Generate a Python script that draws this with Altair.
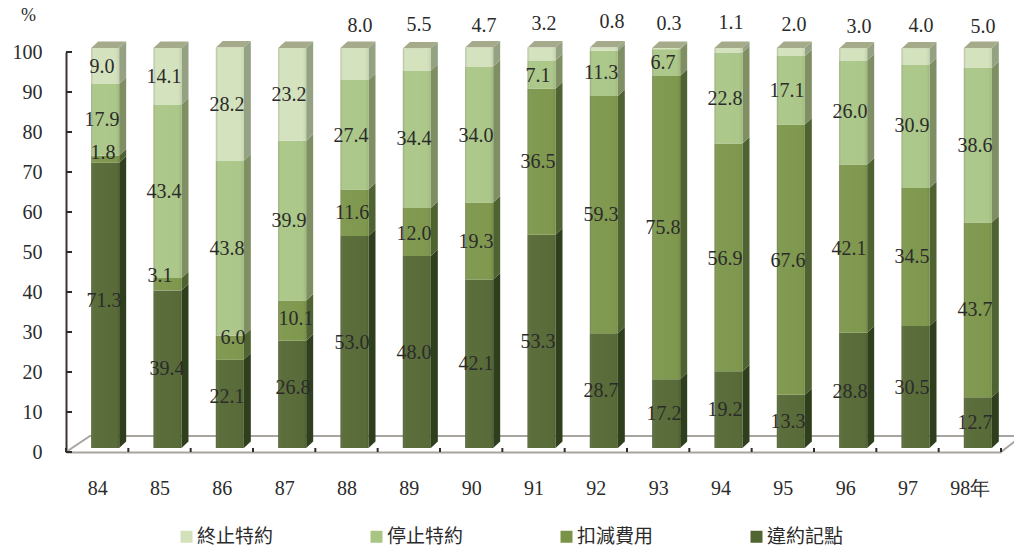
import altair as alt
import pandas as pd

YEARS = list(range(84, 99))
SERIES = ["違約記點", "扣減費用", "停止特約", "終止特約"]
V_BREACH = [71.3, 39.4, 22.1, 26.8, 53.0, 48.0, 42.1, 53.3, 28.7, 17.2, 19.2, 13.3, 28.8, 30.5, 12.7]
V_DEDUCT = [1.8, 3.1, 6.0, 10.1, 11.6, 12.0, 19.3, 36.5, 59.3, 75.8, 56.9, 67.6, 42.1, 34.5, 43.7]
V_STOP = [17.9, 43.4, 43.8, 39.9, 27.4, 34.4, 34.0, 7.1, 11.3, 6.7, 22.8, 17.1, 26.0, 30.9, 38.6]
V_END = [9.0, 14.1, 28.2, 23.2, 8.0, 5.5, 4.7, 3.2, 0.8, 0.3, 1.1, 2.0, 3.0, 4.0, 5.0]
VALUES = [V_BREACH, V_DEDUCT, V_STOP, V_END]

FRONT = ["#516530", "#7a9447", "#a8c584", "#d2e1bb"]
SIDE = ["#2f3f1d", "#4f6231", "#7f8f63", "#95a183"]
TOP_FACE = "#a5aa8a"
INK = "#2b2b2b"
FONT = "Liberation Serif"
CJK = "Noto Sans CJK TC"

# Where the reference places each value label (canvas x, y)
LBL_BREACH = [(105,301),(168,369),(228,397),(294,388),(353,343),(415,353),(477,364),(539,342),(602,391),(665,414),(726,410),(789,422),(851,392),(913,388),(976,423)]
LBL_DEDUCT = [(104,153),(161,276),(234,338),(297,319),(353,213),(415,234),(477,242),(539,162),(602,215),(664,228),(726,259),(789,261),(850,249),(913,257),(976,310)]
LBL_STOP = [(103,120),(165,192),(228,249),(290,221),(352,136),(415,139),(477,136),(539,76),(602,73),(664,63),(726,99),(788,91),(851,112),(913,126),(976,146)]
LBL_END = [(103,67),(165,77),(228,105),(290,95),(361,26),(420,25),(485,26),(545,24),(613,22),(670,24),(732,23),(795,25),(860,27),(922,26),(984,27)]
LABELS = [LBL_BREACH, LBL_DEDUCT, LBL_STOP, LBL_END]

W, H = 935, 400
LEFT, TOP = 66, 52
PX_X = W / 15.0          # pixels per year
PX_Y = H / 100.0         # pixels per percent
lift = 4 / PX_Y          # front face sits above the floor line
half = 14 / PX_X         # half width of a front face
shift = 8 / PX_X         # face centre relative to the band centre
dx3 = 7 / PX_X           # depth of the box, horizontally
dy3 = 6.5 / PX_Y         # depth of the box, vertically

front, side, top, labels, shade = [], [], [], [], []
for i, yr in enumerate(YEARS):
    lo = 0.0
    xl, xr = yr + shift - half, yr + shift + half
    for s, name in enumerate(SERIES):
        v = VALUES[s][i]
        hi = lo + v
        front.append(dict(s=name, xl=xl, xr=xr, lo=lo + lift, hi=hi + lift))
        key = f"{yr}-{s}"
        side.append(dict(k=key, i=s, x=xr, y=lo + lift, y2=hi + lift))
        side.append(dict(k=key, i=s, x=xr + dx3, y=lo + lift + dy3, y2=hi + lift + dy3))
        px, py = LABELS[s][i]
        labels.append(dict(t=f"{v:.1f}",
                           x=84 + (px - 1 - (LEFT + PX_X / 2)) / PX_X,
                           y=(TOP + H - py) / PX_Y))
        lo = hi
    shade.append(dict(xl=xl, xr=xr, lo=lift, hi=lo + lift))
    top.append(dict(k=str(yr), y=lo + lift, x=xl, x2=xr))
    top.append(dict(k=str(yr), y=lo + lift + dy3, x=xl + dx3, x2=xr + dx3))

x_scale = alt.Scale(domain=[83.5, 98.5], nice=False, zero=False)
y_scale = alt.Scale(domain=[0, 100], nice=False)
X_AXIS = alt.Axis(values=YEARS, ticks=False, grid=False, domainColor="#a8a4a0", domainWidth=2,
                  labelFont=FONT, labelFontSize=20, labelColor=INK, labelPadding=26, labelOverlap=False,
                  labelExpr="datum.value == 98 ? '98年' : datum.label", format="d", title=None)
Y_AXIS = alt.Axis(values=list(range(0, 101, 10)), ticks=False, grid=False, domainColor="#3a3533", domainWidth=2,
                  labelFont=FONT, labelFontSize=20, labelColor=INK, labelPadding=24, labelOverlap=False,
                  labelBound=False, labelFlush=False,
                  title="%", titleAngle=0, titleFont=FONT, titleFontSize=18, titleFontWeight="normal",
                  titleColor=INK, titleX=-38, titleY=-37, titleAlign="center", titleBaseline="middle")
def qx(f):
    return alt.X(f, scale=x_scale, axis=X_AXIS)
def qy(f):
    return alt.Y(f, scale=y_scale, axis=Y_AXIS)

# The floor outline
floor_df = pd.DataFrame(dict(x=[83.5, 83.5 + 24 / PX_X, 98.5 + 21 / PX_X, 98.5],
                             y=[0, 16 / PX_Y, 16 / PX_Y, 0], o=[0, 1, 2, 3]))
floor = alt.Chart(floor_df).mark_line(color="#a8a4a0", strokeWidth=2, clip=False).encode(
    x=qx("x:Q"), y=qy("y:Q"), order="o:Q")

# Inward tick marks
xt = pd.DataFrame(dict(x=[y + 0.5 for y in YEARS] + [83.5], a=0.0, b=lift))
x_ticks = alt.Chart(xt).mark_rule(color="#2f2b2a", strokeWidth=2).encode(x=qx("x:Q"), y=qy("a:Q"), y2="b:Q")
yt = pd.DataFrame(dict(y=list(range(0, 101, 10)), x=[83.5] * 11, x2=[83.5 + 6 / PX_X] * 11))
y_ticks = alt.Chart(yt).mark_rule(color="#2f2b2a", strokeWidth=2).encode(x=qx("x:Q"), x2="x2:Q", y=qy("y:Q"))

side_df = pd.DataFrame(side)
side_layers = [
    alt.Chart(side_df[side_df.i == s]).mark_area(color=SIDE[s], clip=False, interpolate="linear").encode(
        x=qx("x:Q"), y=qy("y:Q"), y2="y2:Q", detail="k:N")
    for s in range(4)
]

top_layer = alt.Chart(pd.DataFrame(top)).mark_area(orient="horizontal", color=TOP_FACE, clip=False).encode(
    y=qy("y:Q"), x=qx("x:Q"), x2="x2:Q", detail="k:N")

front_layer = alt.Chart(pd.DataFrame(front)).mark_rect(clip=False).encode(
    x=qx("xl:Q"), x2="xr:Q", y=qy("lo:Q"), y2="hi:Q",
    color=alt.Color("s:N", scale=alt.Scale(domain=SERIES[::-1], range=FRONT[::-1]), title=None,
                    legend=alt.Legend(orient="none", legendX=111, legendY=475, direction="horizontal", columns=4,
                                      symbolType="square", symbolSize=144, symbolStrokeWidth=0, labelFont=CJK,
                                      labelFontSize=19, labelColor=INK, labelOffset=1, columnPadding=93,
                                      labelLimit=200, padding=0)))

gloss = alt.Gradient(gradient="linear", x1=0, x2=1, y1=0, y2=0, stops=[
    alt.GradientStop(color="rgba(90,90,80,0.28)", offset=0),
    alt.GradientStop(color="rgba(255,255,255,0.06)", offset=0.1),
    alt.GradientStop(color="rgba(255,255,255,0.04)", offset=0.85),
    alt.GradientStop(color="rgba(60,60,40,0.10)", offset=1),
])
shade_layer = alt.Chart(pd.DataFrame(shade)).mark_rect(fill=gloss, clip=False).encode(
    x=qx("xl:Q"), x2="xr:Q", y=qy("lo:Q"), y2="hi:Q")

text_layer = alt.Chart(pd.DataFrame(labels)).mark_text(
    font=FONT, fontSize=20, color=INK, align="center", baseline="middle", clip=False).encode(
    x=qx("x:Q"), y=qy("y:Q"), text="t:N")

chart = alt.layer(floor, x_ticks, y_ticks, *side_layers, top_layer, front_layer, shade_layer, text_layer).properties(
    width=W, height=H,
    autosize=alt.AutoSizeParams(type="none"),
    padding={"left": LEFT - 8, "top": TOP - 8, "right": 13, "bottom": 93},
    background="white",
).configure_view(strokeWidth=0)

chart.save("out.html", embed_options={"renderer": "svg", "actions": False})
